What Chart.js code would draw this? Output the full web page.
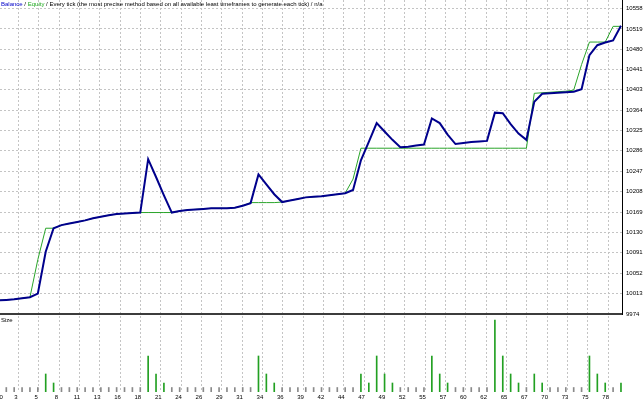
<!DOCTYPE html>
<html>
<head>
<meta charset="utf-8">
<script src="https://cdn.jsdelivr.net/npm/chart.js@4.4.1/dist/chart.umd.min.js"></script>
<style>
html,body{margin:0;padding:0;background:#fff;}
#wrap{position:relative;width:643px;height:402px;overflow:hidden;}
#c{position:absolute;left:0;top:0;}
.lbl{position:absolute;font-family:"Liberation Sans",Arial,sans-serif;font-size:6px;line-height:7px;white-space:nowrap;color:#000;}
</style>
</head>
<body>
<div id="wrap">
<canvas id="c" width="643" height="402"></canvas>
<div class="lbl" style="left:1px;top:1px"><span style="color:#0000c8">Balance</span> / <span style="color:#22aa22">Equity</span> / Every tick (the most precise method based on all available least timeframes to generate each tick) / n/a</div>
<div class="lbl" style="left:1px;top:317px">Size</div>
</div>
<script>
// ---- data ----
const balance = [
  10000,10001,10002,10004,10006,10013,10093,10138,10144,10147,
  10150,10153,10157,10160,10163,10165,10166,10167,10168,10270,
  10236,10201,10168,10171,10173,10174,10175,10176,10176,10176,
  10177,10181,10186,10241,10222,10203,10188,10191,10194,10197,
  10198,10199,10201,10203,10205,10211,10268,10303,10339,10323,
  10307,10293,10294,10296,10298,10348,10339,10317,10299,10301,
  10303,10304,10305,10359,10358,10337,10319,10307,10380,10395,
  10396,10397,10398,10399,10404,10469,10488,10493,10497,10525
];
const equity = [
  10000,10001,10002,10004,10006,10078,10138,10138,10144,10147,
  10150,10153,10157,10160,10163,10165,10166,10167,10168,10168,
  10168,10168,10168,10171,10173,10174,10175,10176,10176,10176,
  10177,10181,10187,10187,10187,10187,10188,10191,10194,10197,
  10198,10199,10201,10203,10205,10232,10291,10291,10291,10291,
  10291,10291,10291,10291,10291,10291,10291,10291,10291,10291,
  10291,10291,10291,10291,10291,10291,10291,10291,10396,10397,
  10398,10399,10400,10402,10451,10494,10494,10494,10524,10524
];
const lotSize = [
  null,0.01,0.01,0.01,0.01,0.01,0.04,0.02,0.01,0.01,
  0.01,0.01,0.01,0.01,0.01,0.01,0.01,0.01,0.01,0.08,
  0.04,0.02,0.01,0.01,0.01,0.01,0.01,0.01,0.01,0.01,
  0.01,0.01,0.01,0.08,0.04,0.02,0.01,0.01,0.01,0.01,
  0.01,0.01,0.01,0.01,0.01,0.01,0.04,0.02,0.08,0.04,
  0.02,0.01,0.01,0.01,0.01,0.08,0.04,0.02,0.01,0.01,
  0.01,0.01,0.01,0.16,0.08,0.04,0.02,0.01,0.04,0.02,
  0.01,0.01,0.01,0.01,0.01,0.08,0.04,0.02,0.01,0.02
];
const xTickLabels = ['0','3','5','8','11','13','16','18','21','24','26','29','31','34','36','39','42','44','47','49','52','55','57','60','62','65','67','70','73','75','78'];
const yTickLabels = [9974,10013,10052,10091,10130,10169,10208,10247,10286,10325,10364,10403,10441,10480,10519,10558];

// ---- axis layout constants ----
const X_MIN = 0.2, X_MAX = 79.13;
const X_TICK_START = -0.054, X_TICK_STEP = 2.581;
const FIRST_TICK_AT = 0.65;   // keeps the "0" label inside the canvas
const Y_MIN = 9974, Y_MAX = 10574.4;
const SIZE_MAX = 0.1733;

const toPts = arr => arr.map((v, i) => ({x: i, y: v}));

const FONT = {family: 'Liberation Sans', size: 6};
const GRID = '#c4c4c4';

const separator = {
  id: 'separator',
  beforeDatasetsDraw(chart) {
    const {ctx, chartArea, scales} = chart;
    const py = scales.y.getPixelForValue(scales.y.min);
    ctx.save();
    ctx.strokeStyle = '#3c3c3c';
    ctx.lineWidth = 2;
    ctx.beginPath();
    ctx.moveTo(chartArea.left, py);
    ctx.lineTo(chartArea.right, py);
    ctx.stroke();
    ctx.restore();
  }
};

const zeroPad = a => { a.paddingLeft = 0; a.paddingRight = 0; a.paddingTop = 0; a.paddingBottom = 0; };

new Chart(document.getElementById('c'), {
  data: {
    datasets: [
      {type: 'line', label: 'Balance', data: toPts(balance), yAxisID: 'y',
       borderColor: '#00008c', borderWidth: 2, pointRadius: 0, tension: 0},
      {type: 'line', label: 'Equity', data: toPts(equity), yAxisID: 'y',
       borderColor: '#2aa52a', borderWidth: 1, pointRadius: 0, tension: 0},
      {type: 'bar', label: 'Size', data: toPts(lotSize), yAxisID: 'y2',
       barThickness: 1,
       backgroundColor: c => (c.raw && c.raw.y > 0.01) ? '#22a022' : '#8a8a8a'}
    ]
  },
  options: {
    responsive: false,
    animation: false,
    layout: {padding: 0},
    plugins: {legend: {display: false}, tooltip: {enabled: false}, title: {display: false}},
    scales: {
      x: {
        type: 'linear', position: 'bottom', min: X_MIN, max: X_MAX, offset: false,
        afterBuildTicks: a => {
          a.ticks = xTickLabels.map((_, k) => ({value: k === 0 ? FIRST_TICK_AT : X_TICK_START + X_TICK_STEP * k}));
        },
        afterFit: a => { a.height = 10; zeroPad(a); },
        ticks: {autoSkip: false, maxRotation: 0, minRotation: 0, padding: 2, labelOffset: -2.5,
                font: FONT, color: '#000', callback: (v, i) => xTickLabels[i]},
        grid: {color: c => c.index === 0 ? 'rgba(0,0,0,0)' : GRID, lineWidth: 1, drawTicks: false, offset: false},
        border: {display: false, dash: [2, 2]}
      },
      y: {
        type: 'linear', position: 'right', stack: 'v', stackWeight: 314,
        min: Y_MIN, max: Y_MAX,
        afterBuildTicks: a => { a.ticks = yTickLabels.map(v => ({value: v})); },
        afterFit: a => { a.width = 21; zeroPad(a); },
        ticks: {padding: 4, font: FONT, color: '#000', callback: v => String(v)},
        grid: {color: GRID, lineWidth: 1, drawTicks: false},
        border: {display: true, color: '#000', width: 1, dash: [2, 2]}
      },
      y2: {
        type: 'linear', position: 'right', stack: 'v', stackWeight: 78,
        min: 0, max: SIZE_MAX,
        afterFit: a => { a.width = 21; zeroPad(a); },
        ticks: {display: false},
        grid: {display: false, drawTicks: false},
        border: {display: false}
      }
    }
  },
  plugins: [separator]
});
</script>
</body>
</html>
